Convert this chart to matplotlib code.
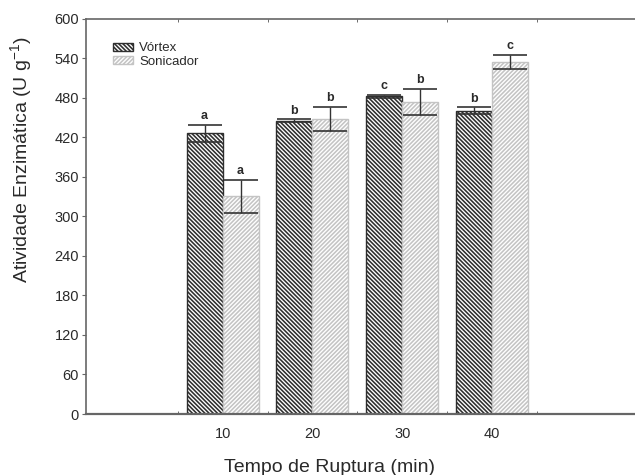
import matplotlib
matplotlib.use("Agg")
import matplotlib.pyplot as plt
import numpy as np

plt.rcParams['font.family'] = ['Liberation Sans', 'DejaVu Sans']
plt.rcParams['hatch.linewidth'] = 1.15

times = [10, 20, 30, 40]
vortex = [426, 445, 482, 460]
vortex_err = [13, 2, 2, 5]
sonic = [330, 448, 473, 534]
sonic_err = [25, 18, 20, 11]
vortex_letters = ['a', 'b', 'c', 'b']
sonic_letters = ['a', 'b', 'b', 'c']
yticks = list(range(0, 601, 60))

W, H = 635, 475
fig = plt.figure(figsize=(W/100, H/100), dpi=100)
ax = fig.add_axes([86/W, 1-414/H, 1-86/W, (414-18.5)/H])

txt = '#2a2a2a'
dark = '#2e2e2e'
light = '#c4c4c4'
width = 4.0
x = np.array(times, dtype=float)

bv = ax.bar(x - width/2, vortex, width, facecolor='white', edgecolor=dark,
            hatch='\\' * 8, linewidth=1.0, label='Vórtex', zorder=2)
bs = ax.bar(x + width/2, sonic, width, facecolor='white', edgecolor=light,
            hatch='/' * 8, linewidth=1.0, label='Sonicador', zorder=2)

ax.errorbar(x - width/2, vortex, yerr=vortex_err, fmt='none', ecolor='#333333',
            elinewidth=1.0, capsize=12.5, capthick=1.2, zorder=3)
ax.errorbar(x + width/2, sonic, yerr=sonic_err, fmt='none', ecolor='#333333',
            elinewidth=1.0, capsize=12.5, capthick=1.2, zorder=3)

for xi, v, e, l in zip(x - width/2, vortex, vortex_err, vortex_letters):
    ax.text(xi, v + e + 4, l, ha='center', va='bottom', fontsize=9,
            fontweight='bold', color=txt)
for xi, v, e, l in zip(x + width/2, sonic, sonic_err, sonic_letters):
    ax.text(xi, v + e + 4, l, ha='center', va='bottom', fontsize=9,
            fontweight='bold', color=txt)

ax.set_xlim(-5.2, 55.9)
ax.set_ylim(0, 600)
ax.set_yticks(yticks)
ax.set_yticklabels([str(t) for t in yticks], fontsize=10.5, color=txt)
ax.set_xticks(times)
ax.set_xticklabels([str(t) for t in times], fontsize=10.5, color=txt)
ax.set_xticks([5, 15, 25, 35, 45], minor=True)
ax.tick_params(axis='x', which='major', length=0, pad=9)
ax.tick_params(axis='x', which='minor', length=2, direction='in', top=True,
               color='#555555')
ax.tick_params(axis='y', which='major', length=3, direction='out', pad=2,
               color='#666666')

for s in ['left', 'bottom', 'top']:
    ax.spines[s].set_color('#666666')
    ax.spines[s].set_linewidth(1.2)
ax.spines['bottom'].set_linewidth(1.6)
ax.spines['right'].set_visible(False)

fig.text(330/W, 1-467/H, 'Tempo de Ruptura (min)', ha='center', va='center',
         fontsize=14, color=txt)
fig.text(22/W, 1-160/H, 'Atividade Enzimática (U g$^{\\mathregular{-1}}$)',
         ha='center', va='center', rotation=90, fontsize=14, color=txt)

leg = ax.legend(loc='upper left', bbox_to_anchor=(104/W, 1-33/H),
                bbox_transform=fig.transFigure, frameon=False, fontsize=9.5,
                handlelength=1.5, handleheight=0.55, handletextpad=0.45,
                labelspacing=0.1, borderpad=0.2)
for t in leg.get_texts():
    t.set_color(txt)

fig.savefig('out.png', dpi=100)
